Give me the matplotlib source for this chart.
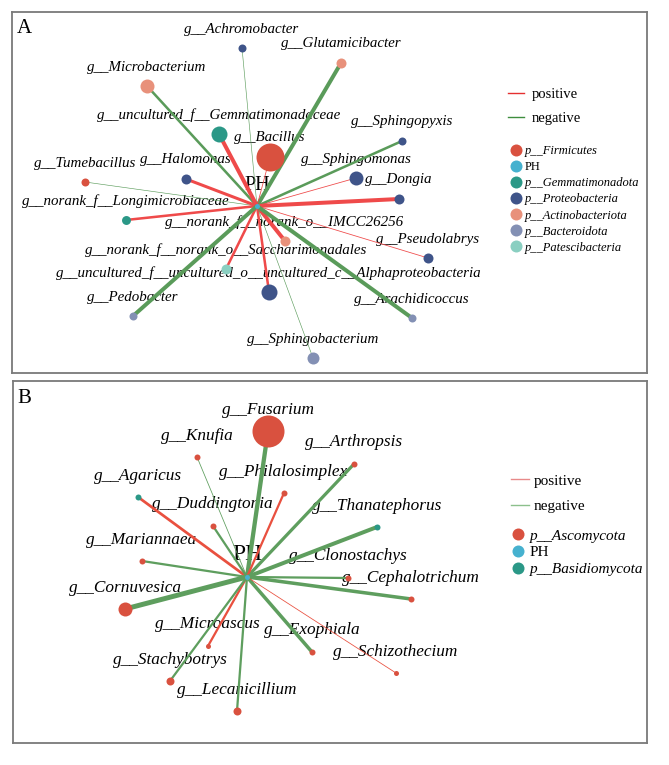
import matplotlib
matplotlib.use("Agg")
import matplotlib.pyplot as plt
from matplotlib.lines import Line2D
import numpy as np

plt.rcParams['font.family'] = ['Liberation Serif', 'DejaVu Serif']

# ---------------- data: panel A (bacteria) ----------------
A_genus = ["g__Achromobacter", "g__Glutamicibacter", "g__Microbacterium",
           "g__uncultured_f__Gemmatimonadaceae", "g__Bacillus", "g__Sphingopyxis",
           "g__Sphingomonas", "g__Dongia", "g__Tumebacillus", "g__Halomonas",
           "g__norank_f__Longimicrobiaceae", "g__norank_f__norank_o__IMCC26256",
           "g__Pseudolabrys", "g__norank_f__norank_o__Saccharimonadales",
           "g__uncultured_f__uncultured_o__uncultured_c__Alphaproteobacteria",
           "g__Pedobacter", "g__Arachidicoccus", "g__Sphingobacterium"]
A_phylum = ["Proteobacteria", "Actinobacteriota", "Actinobacteriota", "Gemmatimonadota",
            "Firmicutes", "Proteobacteria", "Proteobacteria", "Proteobacteria",
            "Firmicutes", "Proteobacteria", "Gemmatimonadota", "Actinobacteriota",
            "Proteobacteria", "Patescibacteria", "Proteobacteria", "Bacteroidota",
            "Bacteroidota", "Bacteroidota"]
# layout coordinates relative to the PH hub
A_x = [-15, 84, -110, -38, 13, 145, 99, 142, -172, -71, -131, 28, 171, -31, 12, -124, 155, 56]
A_y = [158, 143, 120, 72, 49, 65, 28, 7, 24, 27, -14, -35, -52, -63, -86, -110, -112, -152]
A_abund = [4, 6.25, 12.25, 16, 49, 4, 12.25, 6.25, 4, 6.25, 5, 6.25, 6.25, 6.25, 16, 4, 4, 9]
A_corr = [-0.50, -0.85, -0.70, 0.85, 0.52, -0.70, 0.52, 0.85, -0.50, 0.75,
          0.70, 0.85, 0.52, 0.70, 0.70, -0.85, -0.85, -0.50]
A_phyla_legend = ["Firmicutes", "PH", "Gemmatimonadota", "Proteobacteria",
                  "Actinobacteriota", "Bacteroidota", "Patescibacteria"]

# ---------------- data: panel B (fungi) ----------------
B_genus = ["g__Fusarium", "g__Knufia", "g__Arthropsis", "g__Agaricus", "g__Philalosimplex",
           "g__Duddingtonia", "g__Thanatephorus", "g__Mariannaea", "g__Clonostachys",
           "g__Cephalotrichum", "g__Cornuvesica", "g__Microascus", "g__Exophiala",
           "g__Schizothecium", "g__Stachybotrys", "g__Lecanicillium"]
B_phylum = ["Ascomycota", "Ascomycota", "Ascomycota", "Basidiomycota", "Ascomycota",
            "Ascomycota", "Basidiomycota", "Ascomycota", "Ascomycota", "Ascomycota",
            "Ascomycota", "Ascomycota", "Ascomycota", "Ascomycota", "Ascomycota", "Ascomycota"]
B_x = [21, -50, 107, -109, 37, -34, 130, -105, 101, 164, -122, -39, 65, 149, -77, -10]
B_y = [146, 120, 113, 80, 84, 51, 50, 16, -1, -22, -32, -69, -75, -96, -104, -134]
B_abund = [64, 2.25, 2.25, 2.25, 2.25, 2.25, 2.25, 2.25, 2.25, 2.25, 12.25, 1.56, 2.25, 1.56, 4, 4]
B_corr = [-0.88, -0.52, -0.77, 0.72, 0.67, -0.67, -0.85, -0.67, -0.67, -0.80,
          -0.95, 0.67, -0.80, 0.52, -0.67, -0.67]
B_phyla_legend = ["Ascomycota", "PH", "Basidiomycota"]

# ---------------- styling ----------------
phylum_color = {"Firmicutes": "#D9513F", "PH": "#46B1CF", "Gemmatimonadota": "#2B9887",
                "Proteobacteria": "#3F5489", "Actinobacteriota": "#E8917B",
                "Bacteroidota": "#8390B4", "Patescibacteria": "#8ACFC1",
                "Ascomycota": "#D9513F", "Basidiomycota": "#2B9887"}
W, H = 669, 765
fig = plt.figure(figsize=(W / 100, H / 100), dpi=100)
PX = 0.72  # points per pixel


def panel(box, hub):
    x0, y0, x1, y1 = box
    ax = fig.add_axes([x0 / W, 1 - y1 / H, (x1 - x0) / W, (y1 - y0) / H])
    ax.set_xlim(x0 - hub[0], x1 - hub[0])
    ax.set_ylim(hub[1] - y1, hub[1] - y0)
    ax.set_xticks([]); ax.set_yticks([])
    for s in ax.spines.values():
        s.set_color("#7a7a7a"); s.set_linewidth(1.3)
    return ax


def draw(ax, genus, phylum, xs, ys, abund, corr, pos_c, neg_c, fs, dy, ph_fs, ph_dy):
    for g, p, x, y, a, r in zip(genus, phylum, xs, ys, abund, corr):
        lw = (0.6 + (abs(r) - 0.5) * 9.7) * PX
        ax.plot([0, x], [0, y], color=pos_c if r > 0 else neg_c, lw=lw,
                solid_capstyle="butt", zorder=2)
        d = 4 * np.sqrt(a)
        ax.scatter([x], [y], s=(d * PX) ** 2, color=phylum_color[p], lw=0, zorder=4)
        ax.text(x, y + dy, g, ha="center", va="center", fontsize=fs, style="italic", zorder=1)
    ax.scatter([0], [0], s=(5 * PX) ** 2, color=phylum_color["PH"], lw=0, zorder=5)
    ax.text(0, ph_dy, "PH", ha="center", va="center", fontsize=ph_fs, zorder=1)


# Panel A
axA = panel((12, 12, 647, 373), (257, 206))
draw(axA, A_genus, A_phylum, A_x, A_y, A_abund, A_corr, "#EF4A4A", "#5A9B5A",
     10.8, 19, 14.5, 21)
axA.text(0.007, 0.955, "A", transform=axA.transAxes, fontsize=15, va="center", ha="left")
lg1 = axA.legend([Line2D([], [], color="#E53030", lw=1), Line2D([], [], color="#3E8E3E", lw=1)],
                 ["positive", "negative"], loc="upper left", frameon=False, fontsize=10.5,
                 bbox_to_anchor=(508 / W, 1 - 88 / H), bbox_transform=fig.transFigure,
                 borderpad=0, borderaxespad=0, handlelength=1.1, handletextpad=0.55,
                 labelspacing=0.75)
axA.add_artist(lg1)
axA.legend([Line2D([], [], ls="none", marker="o", ms=12 * PX, mew=0,
                   color=phylum_color[p]) for p in A_phyla_legend],
           [p if p == "PH" else "p__" + p for p in A_phyla_legend],
           loc="upper left", frameon=False, fontsize=9,
           bbox_to_anchor=(510 / W, 1 - 145 / H), bbox_transform=fig.transFigure,
           borderpad=0, borderaxespad=0, handlelength=1.0, handletextpad=0.2,
           labelspacing=0.33)
for t in axA.get_legend().get_texts():
    if t.get_text() != "PH":
        t.set_style("italic")

# Panel B
axB = panel((13, 381, 647, 743), (247, 577))
draw(axB, B_genus, B_phylum, B_x, B_y, B_abund, B_corr, "#E9503F", "#5E9E5E",
     12.4, 21.5, 17, 22)
axB.text(0.007, 0.953, "B", transform=axB.transAxes, fontsize=15, va="center", ha="left")
lg2 = axB.legend([Line2D([], [], color="#E88A8A", lw=1), Line2D([], [], color="#8CC08C", lw=1)],
                 ["positive", "negative"], loc="upper left", frameon=False, fontsize=11,
                 bbox_to_anchor=(511 / W, 1 - 474 / H), bbox_transform=fig.transFigure,
                 borderpad=0, borderaxespad=0, handlelength=1.2, handletextpad=0.3,
                 labelspacing=0.75)
axB.add_artist(lg2)
axB.legend([Line2D([], [], ls="none", marker="o", ms=12 * PX, mew=0,
                   color=phylum_color[p]) for p in B_phyla_legend],
           [p if p == "PH" else "p__" + p for p in B_phyla_legend],
           loc="upper left", frameon=False, fontsize=11,
           bbox_to_anchor=(510 / W, 1 - 529 / H), bbox_transform=fig.transFigure,
           borderpad=0, borderaxespad=0, handlelength=1.0, handletextpad=0.3,
           labelspacing=0.2)
for t in axB.get_legend().get_texts():
    if t.get_text() != "PH":
        t.set_style("italic")

fig.savefig("out.png", dpi=100)
